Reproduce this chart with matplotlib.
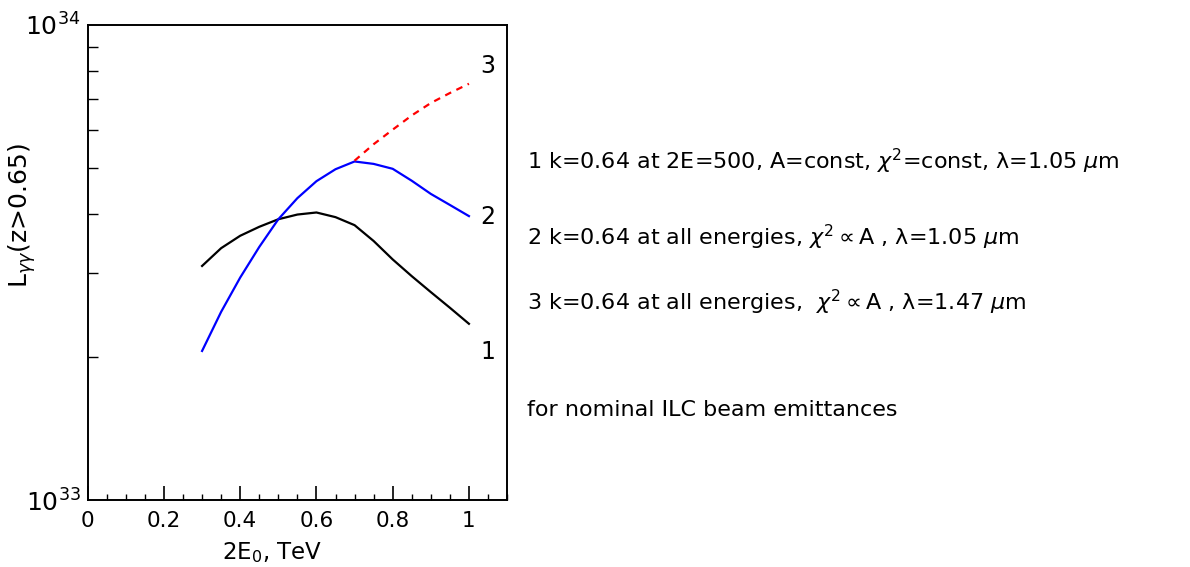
import matplotlib
matplotlib.use("Agg")
import matplotlib.pyplot as plt
from matplotlib.ticker import FixedLocator, NullFormatter, LogLocator

plt.rcParams['font.family'] = ['DejaVu Sans']
plt.rcParams['mathtext.fontset'] = 'dejavusans'

# Beam energy 2E0 (TeV)
energy = [0.30, 0.35, 0.40, 0.45, 0.50, 0.55, 0.60, 0.65, 0.70,
          0.75, 0.80, 0.85, 0.90, 0.95, 1.00]
# Curve 1: k=0.64 at 2E=500, A=const, chi^2=const, lambda=1.05 um  (units of 1e33)
lum_1 = [3.11, 3.39, 3.60, 3.76, 3.90, 3.99, 4.03, 3.94, 3.79,
         3.51, 3.21, 2.96, 2.74, 2.54, 2.35]
# Curve 2: k=0.64 at all energies, chi^2 ~ A, lambda=1.05 um
lum_2 = [2.06, 2.49, 2.94, 3.41, 3.90, 4.32, 4.69, 4.97, 5.16,
         5.10, 4.98, 4.70, 4.41, 4.18, 3.96]
# Curve 3: k=0.64 at all energies, chi^2 ~ A, lambda=1.47 um
energy_3 = [0.70, 0.75, 0.80, 0.85, 0.90, 0.95, 1.00]
lum_3 = [5.18, 5.61, 6.02, 6.45, 6.85, 7.19, 7.52]

curve_ids = ["1", "2", "3"]
notes = [
    r"1 k=0.64 at 2E=500, A=const, $\chi^2$=const, λ=1.05 $\mu$m",
    r"2 k=0.64 at all energies, $\chi^2\propto$A , λ=1.05 $\mu$m",
    r"3 k=0.64 at all energies,  $\chi^2\propto$A , λ=1.47 $\mu$m",
    "for nominal ILC beam emittances",
]

scale = 1e33
fig = plt.figure(figsize=(11.9, 5.67), dpi=100)
ax = fig.add_axes([0.0737, 0.118, 0.3524, 0.838])

ax.plot(energy, [v * scale for v in lum_1], color="black", lw=1.6)
ax.plot(energy, [v * scale for v in lum_2], color="blue", lw=1.6)
ax.plot(energy_3, [v * scale for v in lum_3], color="red", lw=1.6,
        dashes=(3.0, 2.6))

ax.set_yscale("log")
ax.set_xlim(0, 1.1)
ax.set_ylim(1e33, 1e34)

for s in ax.spines.values():
    s.set_linewidth(1.4)

# x axis ticks
ax.xaxis.set_major_locator(FixedLocator([0, 0.2, 0.4, 0.6, 0.8, 1.0]))
ax.xaxis.set_minor_locator(FixedLocator([i * 0.05 for i in range(23)]))
ax.set_xticklabels(["0", "0.2", "0.4", "0.6", "0.8", "1"])
ax.tick_params(axis="x", which="major", direction="in", length=10, width=1.2,
               labelsize=15.5, pad=8)
ax.tick_params(axis="x", which="minor", direction="in", length=4, width=1.0)

# y axis ticks
ax.yaxis.set_major_locator(FixedLocator([1e33, 1e34]))
ax.set_yticklabels([r"$10^{33}$", r"$10^{34}$"])
ax.yaxis.set_minor_locator(LogLocator(base=10, subs=range(2, 10)))
ax.yaxis.set_minor_formatter(NullFormatter())
ax.tick_params(axis="y", which="major", direction="in", length=0,
               labelsize=18, pad=5)
ax.tick_params(axis="y", which="minor", direction="in", length=7, width=1.0)

ax.text(0.44, -0.11, r"2E$_{\mathrm{0}}$, TeV", transform=ax.transAxes,
        ha="center", va="center", fontsize=16.5)
fig.text(0.019, 0.62, r"L$_{\gamma\gamma}$(z>0.65)", rotation=90,
         ha="center", va="center", fontsize=18)

# curve labels next to their end points
label_pos = [(1.05, 2.05), (1.05, 3.95), (1.05, 8.2)]
for cid, (lx, ly) in zip(curve_ids, label_pos):
    ax.text(lx, ly * scale, cid, ha="center", va="center", fontsize=17,
            clip_on=False)

note_y = [0.716, 0.581, 0.466, 0.277]
for t, y in zip(notes, note_y):
    fig.text(0.443, y, t, ha="left", va="center", fontsize=16)

fig.savefig("out.png", dpi=100)
